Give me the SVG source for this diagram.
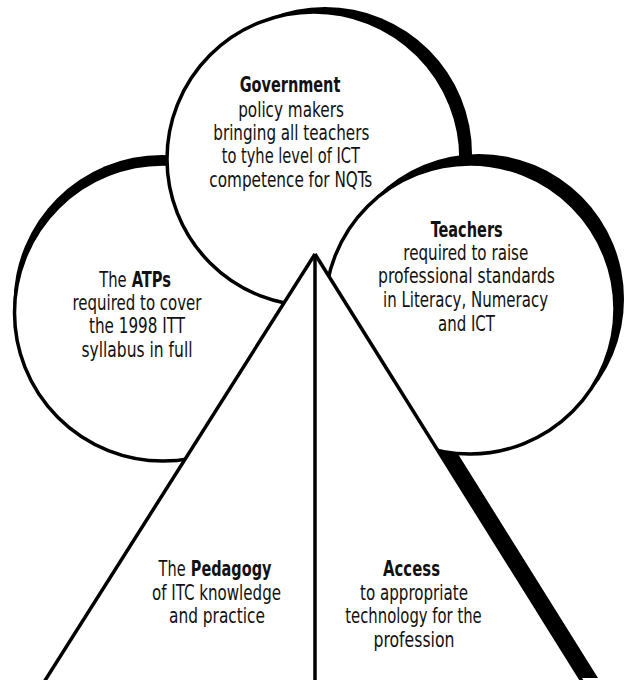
<svg xmlns="http://www.w3.org/2000/svg" width="626" height="680" viewBox="0 0 626 680">
  <style>
    .shade { fill: #000; }
    .rim { fill: #fff; stroke: #000; stroke-width: 3.5; }
    .face { fill: #fff; }
    .edge { fill: none; stroke: #000; stroke-width: 3.5; stroke-linecap: butt; }
    .t { font-family: 'Liberation Sans Narrow', 'DejaVu Sans Condensed', 'Roboto Condensed', 'Liberation Sans', Arial, sans-serif; font-size: 22px; fill: #111; text-anchor: middle; }
    .s { text-anchor: start; }
    .e { text-anchor: end; }
    .b { font-weight: bold; }
  </style>
  <rect width="626" height="680" fill="#fff"/>

  <!-- drop shadow of the pyramid, hidden behind the circles where they overlap -->
  <g id="pyramid-shadow">
    <polygon class="shade" points="315,254 585,686 315,686" transform="translate(13,-8)"/>
  </g>

  <!-- left circle -->
  <g id="node-atps">
    <circle class="shade" cx="162" cy="303.5" r="148.5"/>
    <circle class="rim" cx="163" cy="312.5" r="148.5"/>
    <text class="t e" x="126.7" y="286.7" textLength="27.4" lengthAdjust="spacingAndGlyphs">The</text>
    <text class="t s b" x="131.7" y="286.7" textLength="39.3" lengthAdjust="spacingAndGlyphs">ATPs</text>
    <text class="t" x="137" y="310" textLength="129" lengthAdjust="spacingAndGlyphs">required to cover</text>
    <text class="t" x="137" y="333.3" textLength="96" lengthAdjust="spacingAndGlyphs">the 1998 ITT</text>
    <text class="t" x="137" y="356.7" textLength="111" lengthAdjust="spacingAndGlyphs">syllabus in full</text>
  </g>

  <!-- top circle -->
  <g id="node-government">
    <circle class="shade" cx="325" cy="154" r="147"/>
    <circle class="rim" cx="314" cy="159" r="147"/>
    <text class="t b" x="290" y="91.7" textLength="100.7" lengthAdjust="spacingAndGlyphs">Government</text>
    <text class="t" x="291" y="116.5" textLength="105.7" lengthAdjust="spacingAndGlyphs">policy makers</text>
    <text class="t" x="291.3" y="140" textLength="156" lengthAdjust="spacingAndGlyphs">bringing all teachers</text>
    <text class="t" x="290.8" y="163.3" textLength="138.3" lengthAdjust="spacingAndGlyphs">to tyhe level of ICT</text>
    <text class="t" x="290.8" y="186.7" textLength="163" lengthAdjust="spacingAndGlyphs">competence for NQTs</text>
  </g>

  <!-- right circle -->
  <g id="node-teachers">
    <circle class="shade" cx="479" cy="299" r="145"/>
    <circle class="rim" cx="470" cy="309" r="145"/>
    <text class="t b" x="466.7" y="236.7" textLength="72" lengthAdjust="spacingAndGlyphs">Teachers</text>
    <text class="t" x="465.8" y="260" textLength="125" lengthAdjust="spacingAndGlyphs">required to raise</text>
    <text class="t" x="466.5" y="283.3" textLength="177" lengthAdjust="spacingAndGlyphs">professional standards</text>
    <text class="t" x="465.5" y="306.7" textLength="165" lengthAdjust="spacingAndGlyphs">in Literacy, Numeracy</text>
    <text class="t" x="466.5" y="330.5" textLength="57" lengthAdjust="spacingAndGlyphs">and ICT</text>
  </g>

  <!-- pyramid, left half -->
  <g id="node-pedagogy">
    <polygon class="face" points="315,254 41.5,686 315,686"/>
    <text class="t e" x="185.6" y="576" textLength="27" lengthAdjust="spacingAndGlyphs">The</text>
    <text class="t s b" x="190.8" y="576" textLength="80.7" lengthAdjust="spacingAndGlyphs">Pedagogy</text>
    <text class="t" x="216.5" y="599.5" textLength="129" lengthAdjust="spacingAndGlyphs">of ITC knowledge</text>
    <text class="t" x="217" y="623" textLength="96" lengthAdjust="spacingAndGlyphs">and practice</text>
  </g>

  <!-- pyramid, right half -->
  <g id="node-access">
    <polygon class="face" points="315,254 585,686 315,686"/>
    <text class="t b" x="411.5" y="576" textLength="57" lengthAdjust="spacingAndGlyphs">Access</text>
    <text class="t" x="414" y="599.5" textLength="108" lengthAdjust="spacingAndGlyphs">to appropriate</text>
    <text class="t" x="413.5" y="623" textLength="136.5" lengthAdjust="spacingAndGlyphs">technology for the</text>
    <text class="t" x="414" y="646.5" textLength="81" lengthAdjust="spacingAndGlyphs">profession</text>
  </g>

  <!-- pyramid outline and the divider between its halves -->
  <g id="pyramid-edges">
    <path class="edge" d="M315,254 L41.5,686"/>
    <path class="edge" d="M315,254 L585,686"/>
    <path class="edge" d="M315,254 L315,686"/>
  </g>
</svg>
